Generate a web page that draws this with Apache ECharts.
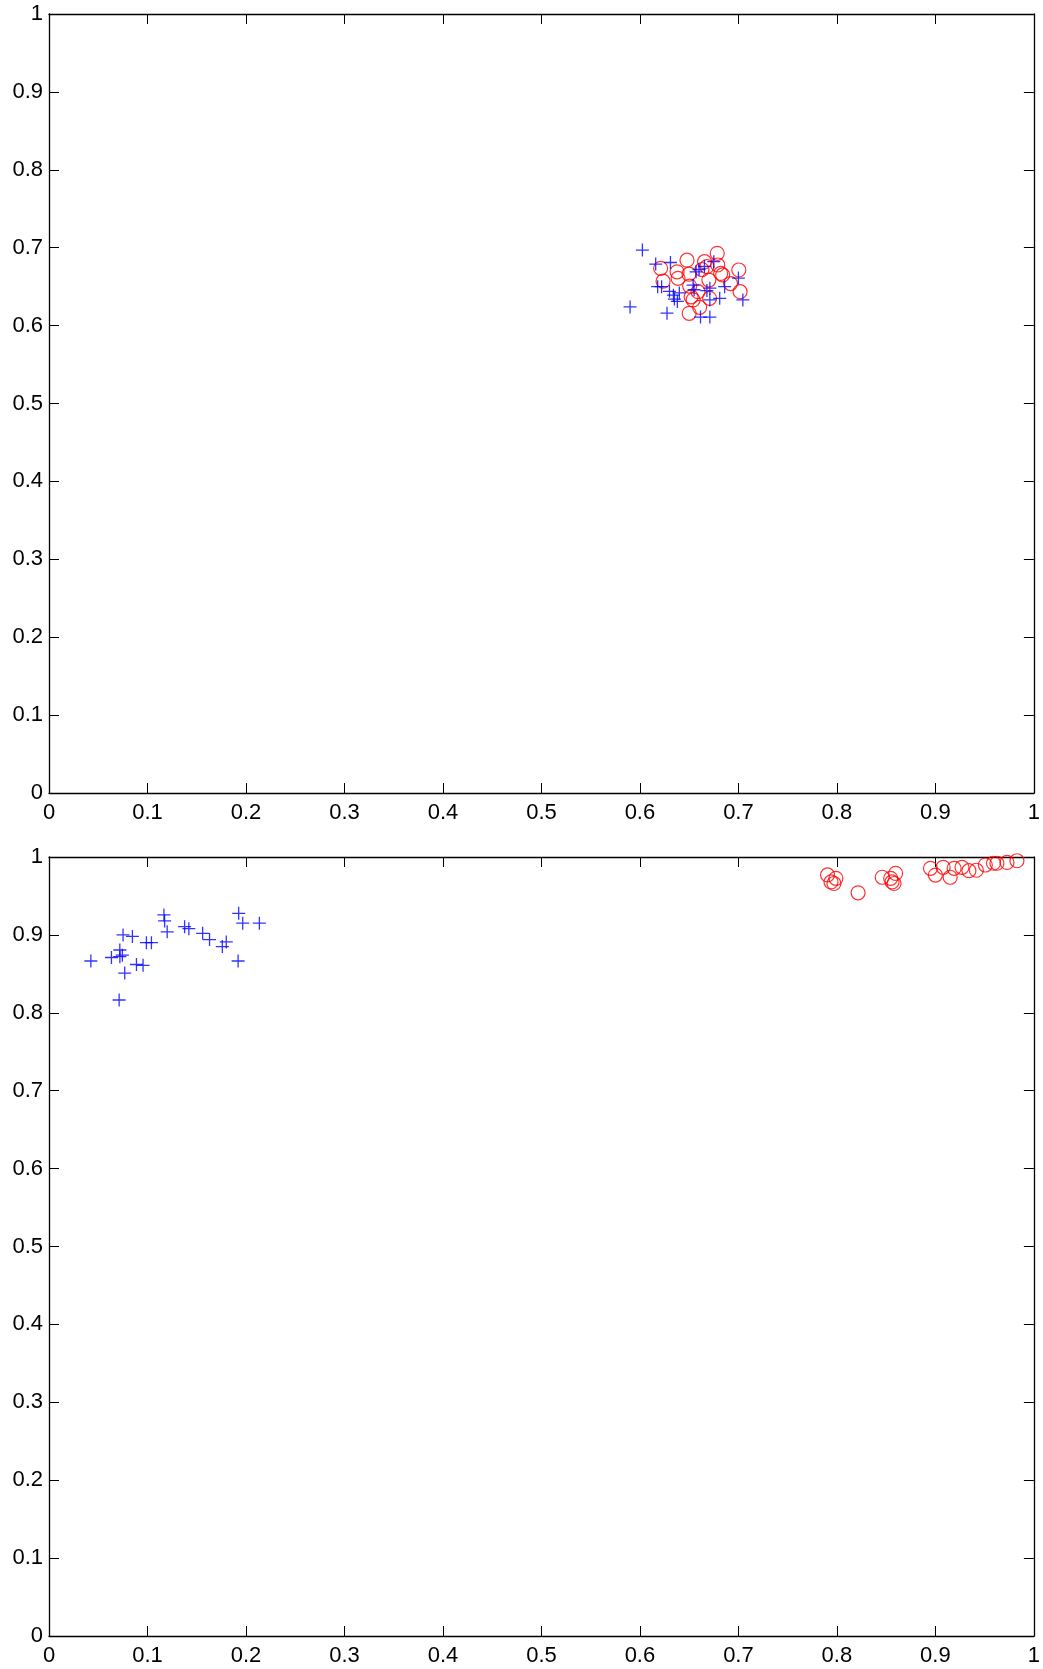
<!DOCTYPE html>
<html lang="en">
<head>
    <meta charset="UTF-8">
    <title>scatter</title>
    <script src="https://cdn.jsdelivr.net/npm/echarts@6/dist/echarts.min.js"></script>
    <style>
        html, body { margin: 0; padding: 0; background: #fff; }
        #chart { width: 1043px; height: 1669px; }
    </style>
</head>
<body>
<div id="chart"></div>
<script>
    // 数据 (从图上读出来的大概位置)
    var topPlus = [
        [0.6025,0.697],[0.616,0.679],[0.631,0.681],[0.618,0.650],[0.622,0.650],
        [0.630,0.644],[0.634,0.639],[0.635,0.634],[0.638,0.631],[0.640,0.642],
        [0.590,0.624],[0.6275,0.616],[0.654,0.652],[0.655,0.646],[0.657,0.669],
        [0.6655,0.676],[0.675,0.682],[0.671,0.648],[0.671,0.633],[0.681,0.635],
        [0.686,0.650],[0.700,0.661],[0.7045,0.633],[0.6615,0.611],[0.671,0.611],
        [0.660,0.672],[0.668,0.645]
    ];
    var topCircle = [
        [0.621,0.6735],[0.6235,0.657],[0.6377,0.669],[0.6387,0.6607],[0.6478,0.684],
        [0.6498,0.666],[0.6505,0.6508],[0.652,0.637],[0.654,0.633],[0.650,0.6158],
        [0.6606,0.6235],[0.659,0.6435],[0.6656,0.682],[0.668,0.6757],[0.670,0.6585],
        [0.6707,0.635],[0.6785,0.6928],[0.679,0.6778],[0.682,0.667],[0.684,0.665],
        [0.692,0.654],[0.7004,0.6714],[0.7017,0.6435],[0.663,0.672]
    ];
    var bottomPlus = [
        [0.0425,0.8665],[0.0634,0.871],[0.0719,0.8806],[0.072,0.872],[0.0769,0.851],
        [0.0712,0.8164],[0.0752,0.900],[0.0847,0.898],[0.0888,0.862],[0.0955,0.861],
        [0.0989,0.890],[0.104,0.890],[0.1167,0.9256],[0.1174,0.918],[0.120,0.904],
        [0.1377,0.9106],[0.142,0.908],[0.156,0.902],[0.163,0.894],[0.176,0.885],
        [0.180,0.891],[0.192,0.8665],[0.1926,0.9277],[0.1967,0.915],[0.2136,0.915],
        [0.0745,0.874]
    ];
    var bottomCircle = [
        [0.7905,0.977],[0.794,0.968],[0.799,0.9726],[0.797,0.966],[0.8215,0.954],
        [0.846,0.974],[0.8546,0.9726],[0.856,0.968],[0.858,0.966],[0.8596,0.979],
        [0.895,0.9855],[0.900,0.9768],[0.9079,0.9868],[0.915,0.974],[0.919,0.9855],
        [0.927,0.9868],[0.934,0.9824],[0.9416,0.983],[0.9507,0.9897],[0.959,0.992],
        [0.9625,0.992],[0.9727,0.993],[0.9828,0.9952]
    ];

    var chart = echarts.init(document.getElementById('chart'));
    var font = 'Liberation Sans';
    var plusPath = 'path://M0,6L12,6M6,0L6,12';

    function xAxes(gi) {
        var base = {
            type: 'value', gridIndex: gi, min: 0, max: 1, interval: 0.1,
            splitLine: {show: false},
            axisLine: {show: true, onZero: false, lineStyle: {color: '#000', width: 1.3}},
            axisTick: {show: true, inside: true, length: 10, lineStyle: {color: '#000', width: 1}}
        };
        return [
            Object.assign({}, base, {position: 'bottom',
                axisLabel: {color: '#000', fontSize: 22, fontFamily: font, margin: 9}}),
            Object.assign({}, base, {position: 'top', axisLabel: {show: false}})
        ];
    }
    function yAxes(gi) {
        var base = {
            type: 'value', gridIndex: gi, min: 0, max: 1, interval: 0.1,
            splitLine: {show: false},
            axisLine: {show: true, onZero: false, lineStyle: {color: '#000', width: 1.3}},
            axisTick: {show: true, inside: true, length: 10, lineStyle: {color: '#000', width: 1}}
        };
        return [
            Object.assign({}, base, {position: 'left',
                axisLabel: {color: '#000', fontSize: 22, fontFamily: font, margin: 6}}),
            Object.assign({}, base, {position: 'right', axisLabel: {show: false}})
        ];
    }

    function circleSeries(data, xi, yi) {
        return {
            type: 'scatter', xAxisIndex: xi, yAxisIndex: yi, data: data,
            symbol: 'circle', symbolSize: 14, silent: true,
            itemStyle: {color: 'rgba(0,0,0,0)', borderColor: '#ff0000', borderWidth: 1.2}
        };
    }
    function plusSeries(data, xi, yi) {
        return {
            type: 'scatter', xAxisIndex: xi, yAxisIndex: yi, data: data,
            symbol: plusPath, symbolSize: 13, silent: true,
            itemStyle: {color: 'rgba(0,0,0,0)', borderColor: '#0000ff', borderWidth: 1.3}
        };
    }

    var option = {
        animation: false,
        backgroundColor: '#fff',
        grid: [
            {left: 49, right: 6, top: 14, height: 779},
            {left: 49, right: 6, top: 857, height: 779}
        ],
        xAxis: xAxes(0).concat(xAxes(1)),
        yAxis: yAxes(0).concat(yAxes(1)),
        series: [
            circleSeries(topCircle, 0, 0),
            plusSeries(topPlus, 0, 0),
            circleSeries(bottomCircle, 2, 2),
            plusSeries(bottomPlus, 2, 2)
        ]
    };
    chart.setOption(option);
</script>
</body>
</html>
